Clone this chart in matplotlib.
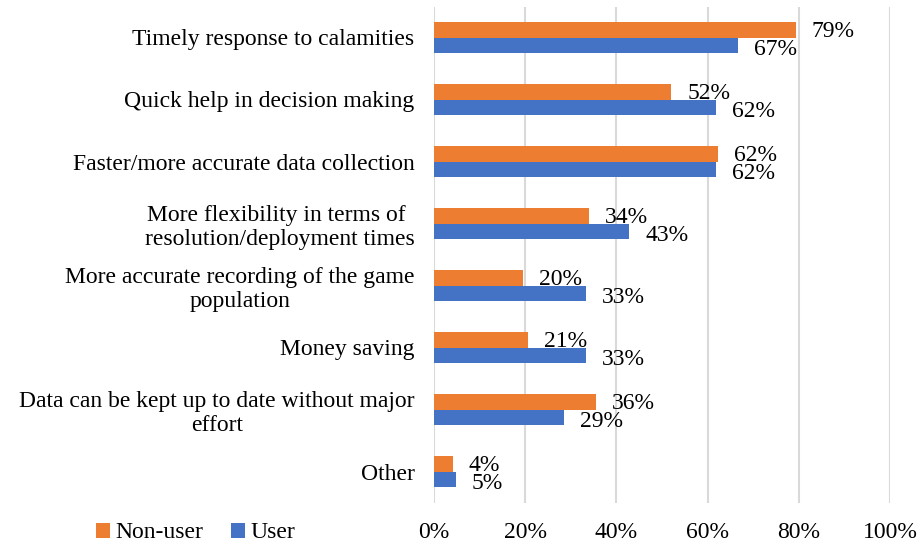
import matplotlib.pyplot as plt
import numpy as np

plt.rcParams['font.family'] = ['Liberation Serif', 'DejaVu Serif']

categories = [
    "Timely response to calamities",
    "Quick help in decision making",
    "Faster/more accurate data collection",
    "More flexibility in terms of \nresolution/deployment times",
    "More accurate recording of the game\npopulation",
    "Money saving",
    "Data can be kept up to date without major\neffort",
    "Other",
]
non_user = [79.3, 52.0, 62.2, 34.0, 19.5, 20.6, 35.5, 4.1]
user = [66.6, 61.8, 61.8, 42.8, 33.3, 33.3, 28.5, 4.8]
non_user_labels = ["79%", "52%", "62%", "34%", "20%", "21%", "36%", "4%"]
user_labels = ["67%", "62%", "62%", "43%", "33%", "33%", "29%", "5%"]

orange = "#ED7D31"
blue = "#4472C4"

fig = plt.figure(figsize=(9.21, 5.44), dpi=100)
ax = fig.add_axes([434 / 921, 41.5 / 544, 456 / 921, 496 / 544])

y = np.arange(len(categories))
h = 0.258
b1 = ax.barh(y - h / 2, non_user, height=h, color=orange, label="Non-user")
b2 = ax.barh(y + h / 2, user, height=h, color=blue, label="User")

for bar, lab in zip(b1, non_user_labels):
    ax.annotate(lab, (bar.get_width(), bar.get_y() + bar.get_height() / 2),
                xytext=(11.5, -1.5), textcoords="offset points",
                ha="left", va="center", fontsize=17)
for bar, lab in zip(b2, user_labels):
    ax.annotate(lab, (bar.get_width(), bar.get_y() + bar.get_height() / 2),
                xytext=(11.5, -3), textcoords="offset points",
                ha="left", va="center", fontsize=17)

ax.set_xlim(0, 100)
ax.set_ylim(len(categories) - 0.5, -0.5)
ax.set_xticks([0, 20, 40, 60, 80, 100])
ax.set_xticklabels(["0%", "20%", "40%", "60%", "80%", "100%"], fontsize=17)
ax.set_yticks(y)
ax.set_yticklabels(categories, fontsize=17)
for t in ax.get_yticklabels():
    t.set_multialignment("center")
ax.tick_params(axis="both", length=0)
ax.tick_params(axis="y", pad=14)
ax.tick_params(axis="x", pad=14)
ax.grid(axis="x", color="#d9d9d9", linewidth=1.5)
ax.set_axisbelow(True)
for s in ax.spines.values():
    s.set_visible(False)

fig.legend(handles=[b1, b2], loc="center left", bbox_to_anchor=(96 / 921, 11 / 544),
           ncol=2, frameon=False, fontsize=17, handlelength=0.6, handleheight=0.6,
           handletextpad=0.2, columnspacing=1.2, borderpad=0, borderaxespad=0)

fig.savefig("out.png", dpi=100)
